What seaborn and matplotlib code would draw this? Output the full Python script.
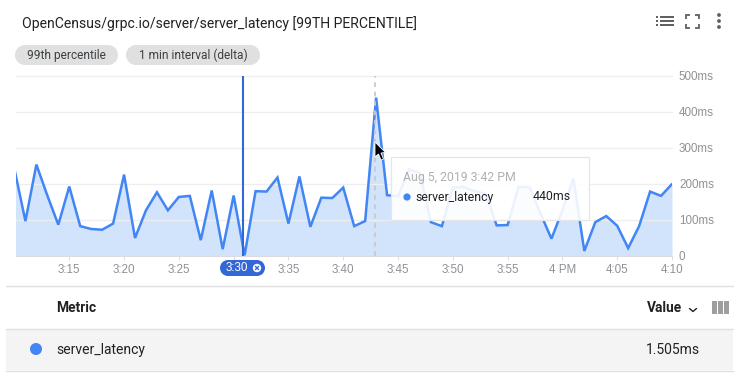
import numpy as np
import pandas as pd
import seaborn as sns
import matplotlib
matplotlib.use("Agg")
import matplotlib.pyplot as plt
from matplotlib.patches import Rectangle, Circle, Polygon

title = "OpenCensus/grpc.io/server/server_latency [99TH PERCENTILE]"
chips = ["99th percentile", "1 min interval (delta)"]
series_name = "server_latency"
minutes = list(range(10, 71))  # minutes after 3:00 PM
latency = [241, 97, 254, 168, 87, 193, 83, 75, 73, 90,
           226, 50, 127, 177, 127, 164, 167, 44, 182, 19,
           168, 2, 180, 179, 218, 90, 221, 81, 162, 161,
           190, 83, 97, 440, 169, 166, 240, 231, 94, 83,
           190, 192, 180, 173, 85, 86, 192, 191, 118, 48,
           127, 215, 14, 94, 111, 84, 22, 83, 179, 167, 200]
x_ticks = [15, 20, 25, 30, 35, 40, 45, 50, 55, 60, 65, 70]
x_labels = ["3:15", "3:20", "3:25", "", "3:35", "3:40", "3:45", "3:50", "3:55", "4 PM", "4:05", "4:10"]
y_ticks = [0, 100, 200, 300, 400, 500]
y_labels = ["0", "100ms", "200ms", "300ms", "400ms", "500ms"]
pinned_minute = 30.88
hover_minute = 42.87
tooltip_date = "Aug 5, 2019 3:42 PM"
tooltip_value = "440ms"
table_value = "1.505ms"

BLUE = "#4285f4"
DARK_BLUE = "#3367d6"
GREY = "#8f9295"

sns.set_theme(style="white")
plt.rcParams["font.family"] = ["Roboto", "DejaVu Sans"]

W, H = 739, 386
fig = plt.figure(figsize=(W / 100, H / 100), dpi=100, facecolor="white")


def overlay(z):
    a = fig.add_axes([0, 0, 1, 1], zorder=z)
    a.set_xlim(0, W)
    a.set_ylim(H, 0)
    a.axis("off")
    a.patch.set_alpha(0)
    return a


# chart
ax = fig.add_axes([16 / W, 1 - 256 / H, (672 - 16) / W, (256 - 76) / H], zorder=1)
df = pd.DataFrame({"minute": minutes, "latency": latency})
ax.fill_between(df["minute"], df["latency"], color="#d2e3fc", lw=0, zorder=1)
sns.lineplot(data=df, x="minute", y="latency", ax=ax, color=BLUE, lw=1.8, zorder=3,
             errorbar=None, solid_joinstyle="miter")
ax.set_xlim(10.14, 70)
ax.set_ylim(0, 500)
ax.set_xlabel("")
ax.set_ylabel("")
ax.patch.set_alpha(0)
for s in ax.spines.values():
    s.set_visible(False)
ax.spines["bottom"].set_visible(True)
ax.spines["bottom"].set_color("#dadce0")
ax.spines["bottom"].set_linewidth(0.8)
ax.set_yticks(y_ticks)
ax.set_yticklabels(y_labels, family=["Liberation Sans", "DejaVu Sans"])
ax.yaxis.tick_right()
ax.set_xticks(x_ticks)
ax.set_xticklabels(x_labels, family=["Liberation Sans", "DejaVu Sans"])
ax.tick_params(axis="y", length=0, pad=5, labelsize=8.4, labelcolor=GREY)
ax.tick_params(axis="x", bottom=True, length=3, width=0.7, color="#dadce0", pad=2.6,
               labelsize=8.4, labelcolor=GREY)
for lab in ax.get_yticklabels():
    lab.set_y(lab.get_position()[1])
for v in y_ticks[1:]:
    ax.axhline(v, color="#eeeeee", lw=0.9, zorder=2, clip_on=False)
ax.axvline(hover_minute, color="#c9c9c9", lw=1.3, ls=(0, (2.6, 2.6)), zorder=4)
ax.axvline(pinned_minute, color=DARK_BLUE, lw=1.5, zorder=5)

# foreground furniture in pixel coordinates
top = overlay(3)
top.text(22, 24, title, fontsize=10.08, color="#202124", va="center", ha="left")

for (x0, x1), label, cx in zip([(15, 118), (126, 260)], chips, [66.5, 193]):
    top.add_patch(Rectangle((x0 + 10, 45), x1 - x0 - 20, 20, fc="#e0e0e0", lw=0))
    top.add_patch(Circle((x0 + 10, 55), 10, fc="#e0e0e0", lw=0))
    top.add_patch(Circle((x1 - 10, 55), 10, fc="#e0e0e0", lw=0))
    top.text(cx, 55, label, fontsize=8.6, color="#3c4043", ha="center", va="center")

# header icons
ic = "#616161"
for yy in (17, 21, 25):
    top.add_patch(Rectangle((656, yy - 0.75), 2, 1.6, fc=ic, lw=0))
    top.add_patch(Rectangle((660, yy - 0.75), 14, 1.6, fc=ic, lw=0))
for sx, sy in [(686, 15), (699, 15), (686, 28), (699, 28)]:
    dx = 4 if sx == 686 else -4
    dy = 4 if sy == 15 else -4
    top.plot([sx + dx, sx, sx], [sy, sy, sy + dy], color=ic, lw=1.3, solid_joinstyle="miter",
             solid_capstyle="butt")
for yy in (15, 21, 27):
    top.add_patch(Circle((719, yy), 1.9, fc=ic, lw=0))

# pinned marker
top.add_patch(Rectangle((228, 260), 29, 16, fc=DARK_BLUE, lw=0))
top.add_patch(Circle((228, 268), 8, fc=DARK_BLUE, lw=0))
top.add_patch(Circle((257, 268), 8, fc=DARK_BLUE, lw=0))
top.text(237, 268, "3:30", fontsize=8.4, color="white", ha="center", va="center",
         family=["Liberation Sans", "DejaVu Sans"])
top.add_patch(Circle((257, 268), 4.2, fc="white", lw=0))
top.plot([255.4, 258.6], [266.4, 269.6], color=DARK_BLUE, lw=1)
top.plot([255.4, 258.6], [269.6, 266.4], color=DARK_BLUE, lw=1)

# tooltip
top.add_patch(Rectangle((391, 157), 198, 63, fc=(1, 1, 1, 0.9), ec="#e6e6e6", lw=0.9))
top.text(403, 177.5, tooltip_date, fontsize=8.8, color="#b0b0b0", ha="left", va="center")
top.add_patch(Circle((407, 197), 3.6, fc=BLUE, lw=0))
top.text(415, 197, series_name, fontsize=8.8, color="#202124", ha="left", va="center")
top.text(571, 197, tooltip_value, fontsize=8.8, color="#202124", ha="right", va="center")

# mouse cursor
top.add_patch(Polygon([(375, 142), (375, 157), (378.5, 154), (381, 160), (383.5, 159),
                       (381, 153), (385.5, 152.5)], closed=True, fc="black", ec="white", lw=0.6))

# table
top.plot([6, 733], [286, 286], color="#e0e0e0", lw=1)
top.add_patch(Rectangle((6, 329), 727, 41, fc="#f4f4f4", lw=0))
top.plot([6, 733], [329, 329], color="#e0e0e0", lw=1)
top.plot([6, 733], [370.5, 370.5], color="#e0e0e0", lw=1)
top.text(56, 308, "Metric", fontsize=9.9, fontweight="bold", color="#202124", ha="left", va="center")
top.text(682, 308, "Value", fontsize=9.9, fontweight="bold", color="#202124", ha="right", va="center")
top.plot([689.5, 693, 696.5], [308.5, 311.5, 308.5], color="#202124", lw=1)
for xx in (712, 718, 724):
    top.add_patch(Rectangle((xx, 301), 5, 13, fc="#9e9e9e", lw=0))
top.add_patch(Circle((36, 349), 6, fc=BLUE, lw=0))
top.text(56, 349.6, series_name, fontsize=10, color="#202124", ha="left", va="center")
top.text(700, 349.6, table_value, fontsize=10, color="#202124", ha="right", va="center")

fig.savefig("out.png", dpi=100)
